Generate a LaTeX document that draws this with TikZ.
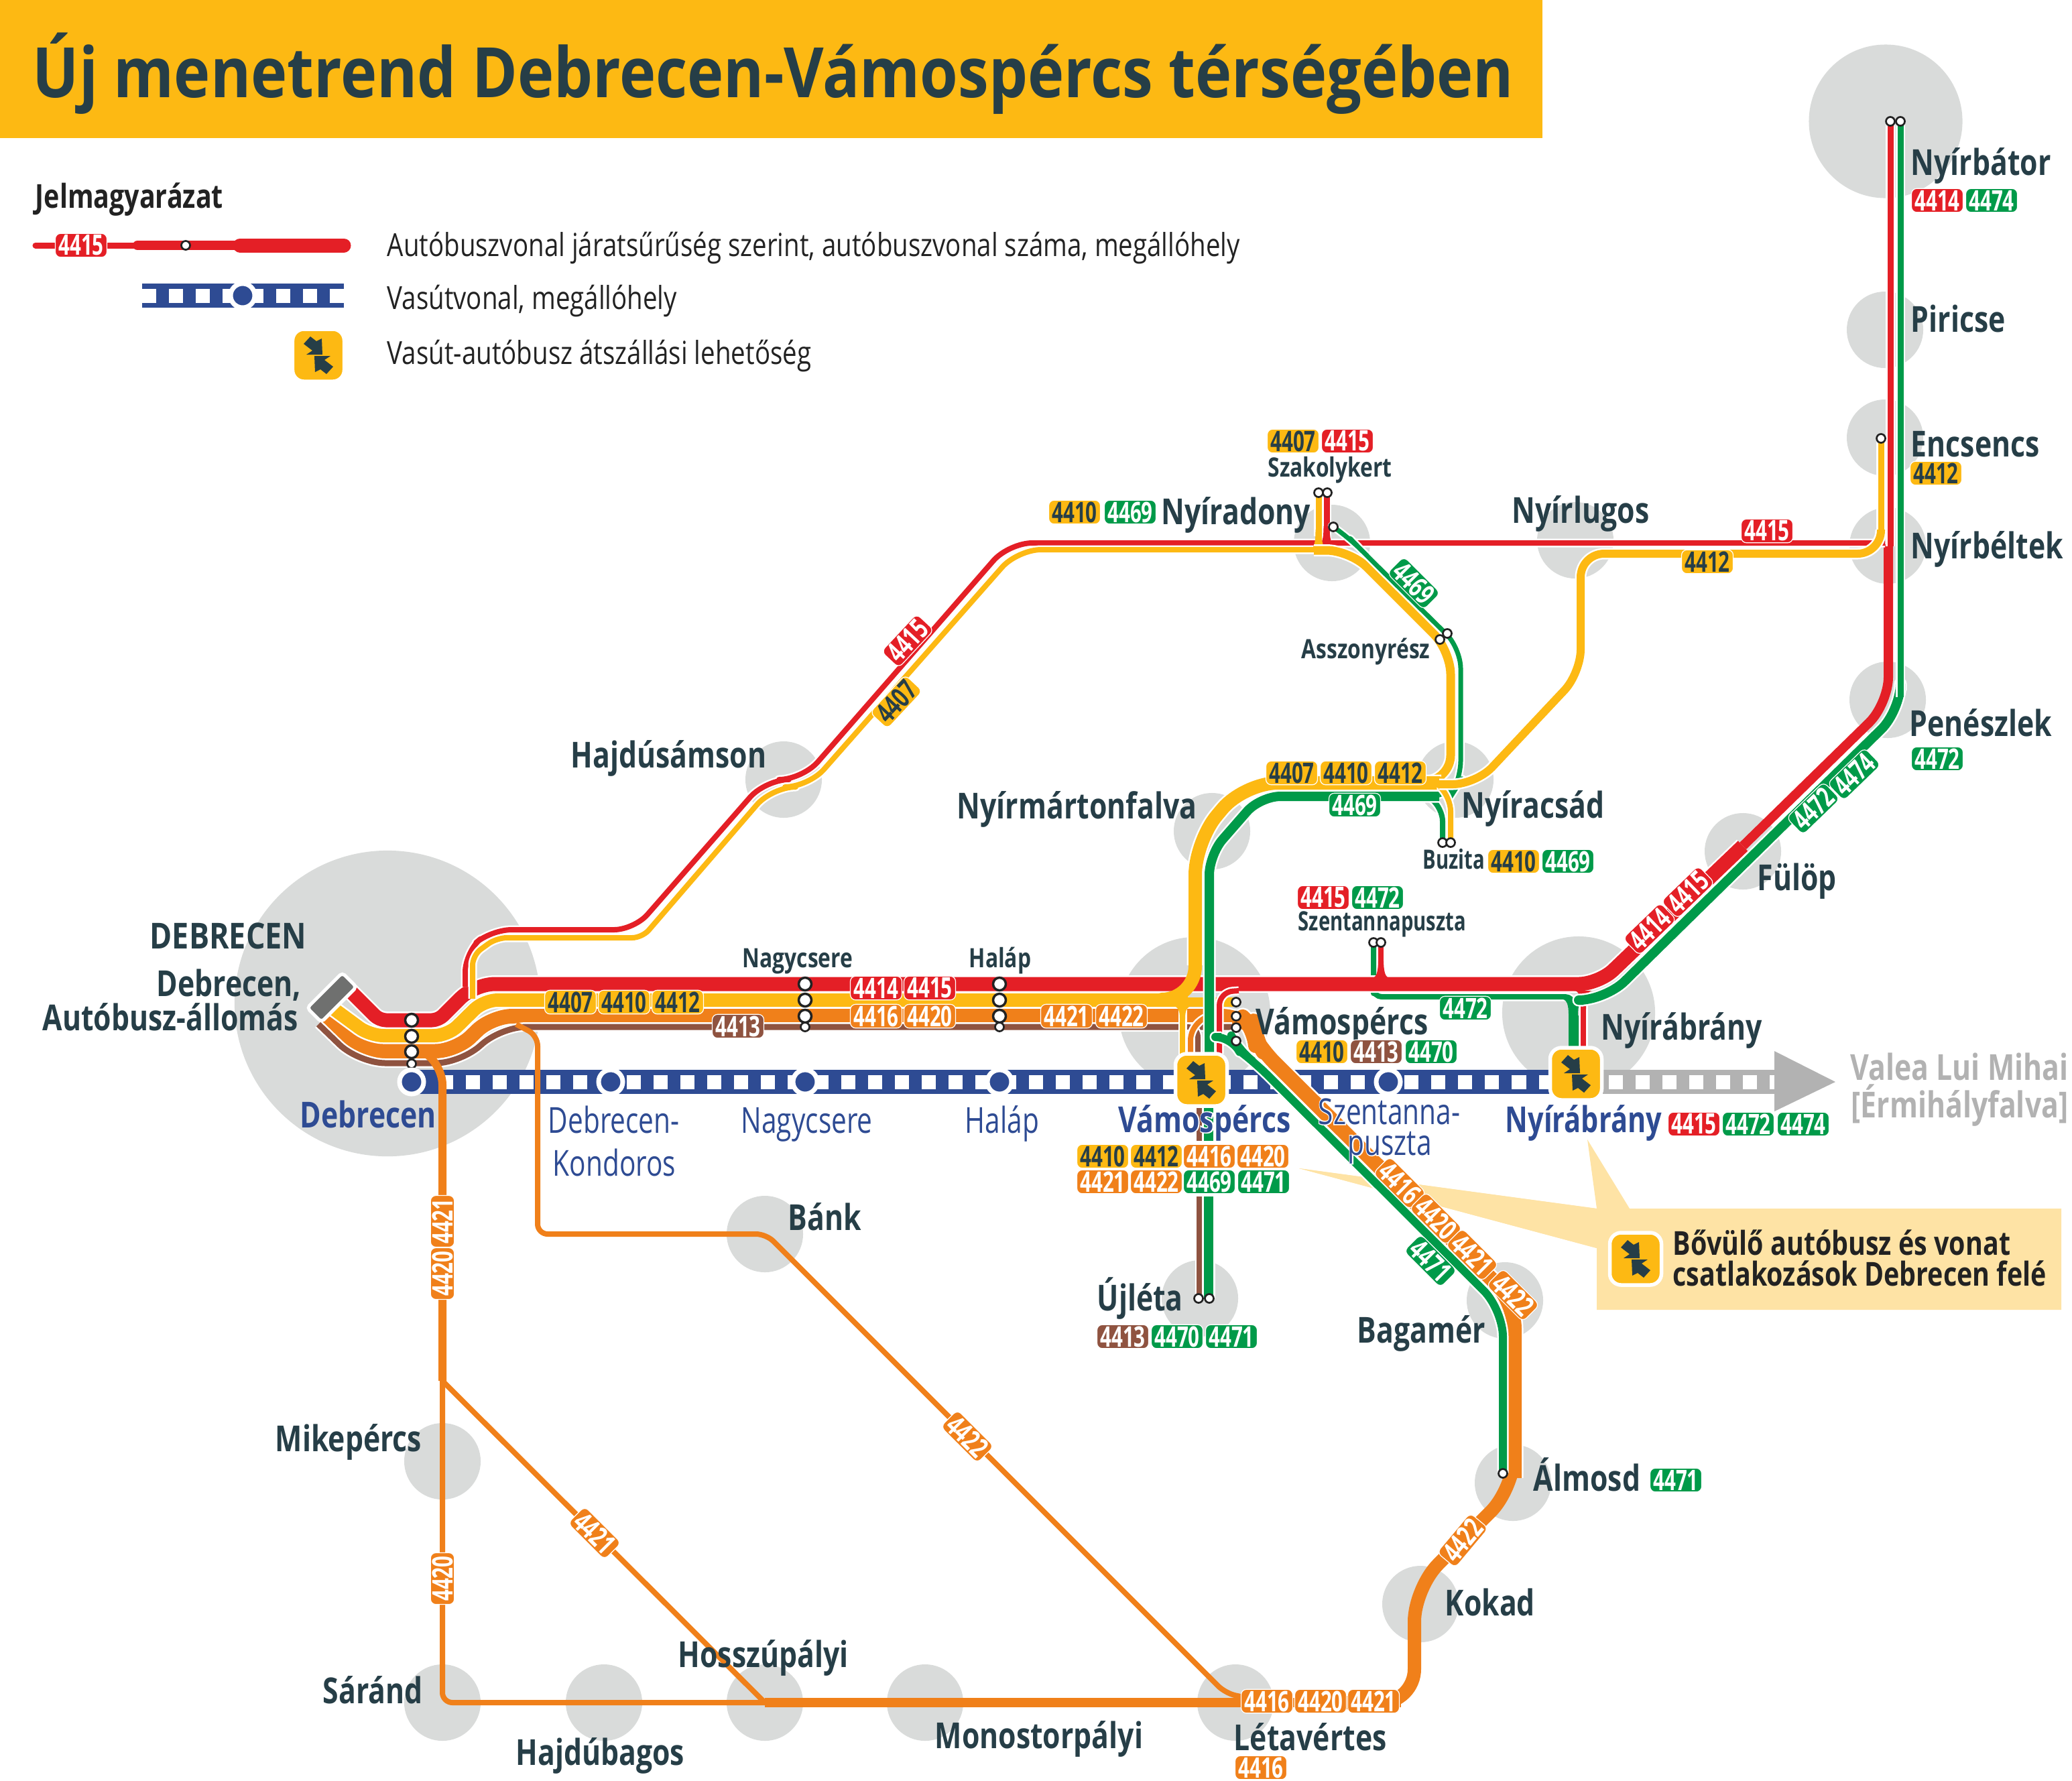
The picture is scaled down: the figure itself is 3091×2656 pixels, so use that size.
\documentclass[tikz,border=0pt]{standalone}
\usepackage{fontspec}
\setmainfont{Open Sans}
\newfontfamily\tF[FakeStretch=0.884]{Open Sans}
\newfontfamily\stB[FakeStretch=0.80]{Open Sans}
\newfontfamily\stH[FakeStretch=0.80,FakeBold=6]{Open Sans}
\newfontfamily\stR[FakeStretch=0.76]{Open Sans}
\newfontfamily\stQ[FakeStretch=0.76,FakeBold=6]{Open Sans}
\newfontfamily\bdF[FakeStretch=0.70]{Open Sans}
\newfontfamily\lgF[FakeStretch=0.81]{Open Sans}
\definecolor{cR}{HTML}{E41F26}
\definecolor{cY}{HTML}{FDB913}
\definecolor{cO}{HTML}{F0801A}
\definecolor{cB}{HTML}{8F5340}
\definecolor{cG}{HTML}{009A49}
\definecolor{cN}{HTML}{2E4B93}
\definecolor{cD}{HTML}{263E47}
\definecolor{cC}{HTML}{D9DBDA}
\definecolor{cS}{HTML}{B2B2B2}
\definecolor{cP}{HTML}{FEE3A5}
\definecolor{cK}{HTML}{222222}
\definecolor{cM}{HTML}{6F706F}
\tikzset{
  rt/.style={line join=round,line cap=butt},
  town/.style={circle,fill=cC,inner sep=0pt},
  bdgbase/.style={rounded corners=0.08cm,draw=white,line width=0.012cm,minimum width=0.77cm,minimum height=0.355cm,inner sep=0pt,
     font=\bdF\bfseries\fontsize{12}{12}\selectfont},
  bR/.style={bdgbase,fill=cR,text=white},
  bY/.style={bdgbase,fill=cY,text=cD},
  bO/.style={bdgbase,fill=cO,text=white},
  bG/.style={bdgbase,fill=cG,text=white},
  bB/.style={bdgbase,fill=cB,text=white},
  stopb/.style={circle,fill=white,draw=cK,line width=0.035cm,inner sep=0pt,minimum size=0.19cm},
  stops/.style={circle,fill=white,draw=cK,line width=0.027cm,inner sep=0pt,minimum size=0.13cm},
  railst/.style={circle,fill=cN,draw=white,line width=0.07cm,inner sep=0pt,minimum size=0.36cm},
  tbox/.style={rounded corners=0.17cm,fill=cY,draw=white,line width=0.055cm,minimum width=0.77cm,minimum height=0.78cm,inner sep=0pt},
  lab/.style={anchor=base west,inner sep=0pt},
}
\newcounter{nn}
\newcommand\bdg[5][0]{\stepcounter{nn}\node[#2,rotate=#1] (b\arabic{nn}) at (#3,#4) {#5};}
\newcommand\route[4][0.3cm]{%
  \draw[rt,rounded corners=#1,white,line width=(#3+5)*0.01cm] #4;
  \draw[rt,rounded corners=#1,#2,line width=#3*0.01cm] #4;}
\newcommand\plain[4][0.3cm]{\draw[rt,rounded corners=#1,#2,line width=#3*0.01cm] #4;}
\newcommand\flare[6]{\fill[#1] ({#2-#6},#3) .. controls ({#2-#6},{#3+(#4-#3)*0.65}) and ({#2-#6-2},#4) .. ({#2-#5},#4) -- ({#2+#5},#4) .. controls ({#2+#6+2},#4) and ({#2+#6},{#3+(#4-#3)*0.65}) .. ({#2+#6},#3) -- cycle;}
\newcommand\hB[1]{\makebox[0pt][l]{\color{white}\stH\bfseries #1}#1}
\newcommand\hR[1]{\makebox[0pt][l]{\color{white}\stQ #1}#1}
\newcommand\stn[4]{\stepcounter{nn}\node[lab,text=#1,font=\stB\bfseries\fontsize{15.2}{18}\selectfont] (t\arabic{nn}) at (#2,#3) {#4};}
\newcommand\stnH[4]{\stepcounter{nn}\node[lab,text=#1,font=\stB\bfseries\fontsize{15.2}{18}\selectfont] (t\arabic{nn}) at (#2,#3) {\hB{#4}};}
\newcommand\sml[3]{\stepcounter{nn}\node[lab,text=cD,font=\stB\bfseries\fontsize{11.3}{13}\selectfont] (t\arabic{nn}) at (#1,#2) {#3};}
\newcommand\rgl[4]{\stepcounter{nn}\node[lab,text=#1,font=\stR\fontsize{15.2}{18}\selectfont] (t\arabic{nn}) at (#2,#3) {#4};}
\newcommand\rglH[4]{\stepcounter{nn}\node[lab,text=#1,font=\stR\fontsize{15.2}{18}\selectfont] (t\arabic{nn}) at (#2,#3) {\hR{#4}};}
\newcommand\icon[2]{\stepcounter{nn}\node[tbox] (i\arabic{nn}) at (#1,#2) {};
  \begin{scope}[shift={(#1,#2)}]
  \fill[cD] (-22,-17)--(-12,-28)--(-3,-21)--(5,-25)--(6,-1)--(-18,-1)--(-9,-7)--cycle;
  \fill[cD] (22,17)--(12,28)--(3,21)--(-5,25)--(-6,1)--(18,1)--(9,7)--cycle;
  \end{scope}}
\begin{document}
\begin{tikzpicture}[x=0.01cm,y=-0.01cm]
\useasboundingbox (0,0) rectangle (3091,2656);
% banner
\fill[cY] (0,0) rectangle (2301,206);
\node[lab,text=cD,font=\tF\bfseries\fontsize{29.5}{34}\selectfont] (title) at (48,145) {Új menetrend Debrecen-Vámospércs térségében};
% legend
\node[lab,text=cK,font=\stB\bfseries\fontsize{14}{16}\selectfont] (lg0) at (52,310) {Jelmagyarázat};
\draw[cR,line width=0.09cm,line cap=round] (53,366)--(200,366);
\draw[cR,line width=0.14cm,line cap=round] (205,366)--(350,366);
\draw[cR,line width=0.21cm,line cap=round] (358,366)--(513,366);
\bdg{bR}{121}{366}{4415}
\node[stops] (lg1) at (277,366) {};
\draw[cN,line width=0.36cm] (212,441)--(513,441);
\draw[white,line width=0.21cm,dash pattern=on 0.21cm off 0.19cm] (212,441)--(513,441);
\node[railst] (lg2) at (362,441) {};
\icon{475}{530}
\node[lab,text=cK,font=\lgF\fontsize{13.5}{15}\selectfont] (lg3) at (577,382) {Autóbuszvonal járatsűrűség szerint, autóbuszvonal száma, megállóhely};
\node[lab,text=cK,font=\lgF\fontsize{13.5}{15}\selectfont] (lg4) at (577,461) {Vasútvonal, megállóhely};
\node[lab,text=cK,font=\lgF\fontsize{13.5}{15}\selectfont] (lg5) at (577,543) {Vasút-autóbusz átszállási lehetőség};
% towns
\node[town,minimum size=4.56cm] (cDeb) at (578,1497) {};
\node[town,minimum size=2.26cm] (cVam) at (1782,1511) {};
\node[town,minimum size=2.28cm] (cAbr) at (2355,1511) {};
\node[town,minimum size=2.29cm] (cBat) at (2813,181) {};
\foreach \n/\x/\y in {Pir/2812/492,Enc/2812/653,Bel/2816/814,Pen/2816/1044,Ful/2600/1270,Acs/2171/1163,Mar/1808/1240,Ady/1987/810,Lug/2350/806,Sam/1169/1163,Bank/1141/1841,Ujl/1790/1937,Bag/2245/1940,Alm/2257/2212,Kok/2119/2393,Let/1843/2540,Mon/1380/2540,Hos/1141/2540,Hba/901/2540,Sar/660/2540,Mik/660/2180}
  \node[town,minimum size=1.14cm] (c\n) at (\x,\y) {};
% callout
\fill[cP] (2382,1803)--(2368,1700)--(2431,1803)--(3075,1803)--(3075,1954)--(2382,1954)--(2382,1862)--(1938,1743)--cycle;
\fill[cP] (1938,1743)--(2382,1803)--(2382,1862)--cycle;
% rails
\draw[cN,line width=0.36cm] (614,1614)--(2330,1614);
\draw[white,line width=0.21cm,dash pattern=on 0.21cm off 0.19cm] (654.5,1614)--(2320,1614);
\draw[cS,line width=0.36cm] (2380,1614)--(2650,1614);
\draw[white,line width=0.21cm,dash pattern=on 0.21cm off 0.19cm] (2400,1614)--(2647,1614);
\fill[cS] (2647,1568)--(2738,1614)--(2647,1658)--cycle;
% corridor
\route[0.4cm]{cO}{22}{(485,1515)[rounded corners=0.3cm]--(543,1568)--(680,1568)--(734,1516)--(1853,1516)[rounded corners=0.25cm]--(1871,1535)--(1872,1548)--(1883,1567)[rounded corners=0.4cm]--(2259,1942)--(2259,2205)}
\plain[0.5cm]{cO}{20}{(2259,2195)--(2259,2220)--(2110,2369)--(2110,2540)--(1990,2540)}
\plain[0.1cm]{cO}{14}{(2090,2540)--(1141,2540)}
\route{cB}{9}{(475,1528)[rounded corners=0.4cm]--(535,1586)--(690,1586)--(745,1532)--(1838,1532)}
\route[0.15cm]{cB}{8}{(1770,1532)--(1787,1532)--(1787,1575)}
\route[0.3cm]{cO}{8}{(1800,1517)--(1776,1522)--(1776,1575)}
\route{cY}{20}{(495,1503)[rounded corners=0.2cm]--(552,1545)--(668,1545)--(722,1492)--(1772,1492)}
\draw[cY,line width=0.14cm,line cap=round] (1772,1495)--(1838,1495);
\route[0.1cm]{cY}{8}{(1764,1502)--(1764,1575)}
\flare{cY}{1764}{1520}{1499}{24}{4}
\route[0.12cm]{cG}{8}{(2049,1406)--(2049,1470)--(2049,1487)--(2347,1487)--(2347,1565)}
\draw[cG,line width=0.15cm] (2347,1515)--(2347,1565);
\flare{cG}{2347}{1515}{1490}{20}{7}
\route{cR}{21}{(505,1461)[rounded corners=0.1cm]--(566,1522)--(654,1522)[rounded corners=0.3cm]--(708,1468)--(2385,1468)--(2600,1262)}
\plain[0.4cm]{cR}{14}{(2600,1262)--(2817,1050)--(2817,812)}
\flare{cR}{2060}{1430}{1459}{14}{4}
\route[0.1cm]{cR}{8}{(2060,1406)--(2060,1434)}
\route[0.1cm]{cR}{8}{(2362,1479)--(2362,1565)}
\flare{cR}{2362}{1505}{1478}{14}{4}
% upper 4415
\route{cR}{8}{(694,1472)--(694,1420)--(733,1387)--(946,1387)[rounded corners=0.35cm]--(1142,1163)--(1197,1163)--(1505,810)[rounded corners=0.1cm]--(2812,810)}
\route[0.1cm]{cR}{9}{(1979,735)--(1979,807)}
\flare{cR}{1979}{785}{812}{12}{4.5}
\route[0.1cm]{cR}{9}{(2820,181)--(2820,815)}
\route[0.4cm]{cG}{14}{(2362,1492)--(2395,1492)--(2835,1060)--(2835,1030)}
\route[0.1cm]{cG}{9}{(2835,181)--(2835,1040)}
% yellow
\route[0.15cm]{cY}{8}{(705,1490)--(705,1425)--(741,1399)--(958,1399)[rounded corners=0.35cm]--(1152,1174)--(1206,1174)--(1518,820)[rounded corners=0.1cm]--(1970,820)}
\route[0.1cm]{cY}{9}{(1967,735)--(1967,800)}
\flare{cY}{1967}{790}{820}{15}{4.5}
\route[0.35cm]{cY}{13}{(1960,821)--(2014,821)--(2164,971)--(2164,1162)--(2135,1165)}
\draw[rt,rounded corners=0.5cm,white,line width=0.25cm] (2150,1168)--(1856,1168)--(1783,1255)--(1783,1440);
\plain[0.5cm]{cY}{20}{(2147,1168)--(1856,1168)--(1783,1255)--(1783,1491)--(1750,1491)}
\fill[cY] (2147,1168) circle (10);
% green
\route[0.3cm]{cG}{7}{(2135,1188)--(2165,1187)--(2179,1165)--(2179,967)--(2035,825)--(2012,801)--(1989,786)}
\route[0.2cm]{cG}{8}{(2130,1188)--(2152,1205)--(2152,1257)}
\route[0.2cm]{cG}{13}{(1835,1547)--(1820,1547)--(1806,1565)}
\route[0.3cm]{cG}{14}{(1804,1575)--(1804,1275)--(1880,1188)--(2147,1188)}
\route[0.2cm]{cY}{8}{(2150,1176)--(2164,1190)--(2164,1257)}
\route[0.15cm]{cY}{9}{(2806,800)--(2806,654)}
\route[0.35cm]{cY}{12}{(2147,1170)--(2202,1170)--(2358,1004)--(2358,826)--(2806,826)--(2806,790)}
\fill[cY] (2147,1170) circle (6);
% red branch at Vamospercs
\route[0.2cm]{cR}{8}{(1848,1478)--(1819,1480)--(1819,1572)}
% green 4471
\route[0.25cm]{cG}{12}{(1822,1547)--(1838,1547)--(1848,1567)--(1873,1586)[rounded corners=0.4cm]--(2242,1954)--(2242,2198)}
\route[0.1cm]{cB}{8}{(1789,1650)--(1789,1702)}
\route[0.1cm]{cG}{14}{(1803,1650)--(1803,1702)}
\route[0.1cm]{cB}{8}{(1789,1785)--(1789,1937)}
\route[0.1cm]{cG}{14}{(1803,1785)--(1803,1937)}
% thin orange branches, over the corridor
\plain[0.28cm]{cO}{12}{(630,1568)--(660,1590)--(660,2060)}
\plain[0.15cm]{cO}{8}{(660,2060)--(660,2540)--(1141,2540)}
\plain[0.05cm]{cO}{8}{(660,2060)--(1141,2540)}
\plain[0.15cm]{cO}{8}{(770,1528)--(802,1545)--(802,1841)--(1143,1841)--(1828,2526)--(1860,2533)}
% depot
\node[rectangle,rounded corners=0.05cm,fill=cM,draw=white,line width=0.05cm,minimum width=0.74cm,minimum height=0.30cm,rotate=45,inner sep=0pt] (depot) at (495,1488) {};
% stops
\foreach \n/\y in {a/1522,b/1546,c/1569}{\node[stopb] (dk\n) at (614,\y) {};}
\node[stops] (dkd) at (614,1587) {};
\foreach \n/\y in {a/1468,b/1492,c/1516}{\node[stopb] (nc\n) at (1201,\y) {};\node[stopb] (hl\n) at (1491,\y) {};}
\node[stops] (ncd) at (1201,1532) {};
\node[stops] (hld) at (1491,1532) {};
\foreach \n/\x/\y in {v1/1844/1495,v2/1844/1516,v3/1844/1533,v4/1844/1553,sz1/1967/735,sz2/1980/735,ad/1989/786,as1/2148/954,as2/2159/945,bu1/2152/1257,bu2/2164/1257,st1/2049/1406,st2/2060/1406,ba1/2820/181,ba2/2835/181,en/2806/654,uj1/1788/1937,uj2/1804/1937,al/2242/2198}
  \node[stops] (s\n) at (\x,\y) {};
% rail stations
\foreach \n/\x in {Deb/614,Kon/911,Nag/1201,Hal/1491,Sze/2071}
  \node[railst] (r\n) at (\x,1614) {};
\icon{1792}{1611}
\icon{2351}{1602}
% callout content
\icon{2440}{1878}
\node[lab,text=cK,font=\stB\bfseries\fontsize{14}{16}\selectfont] (co1) at (2495,1872) {Bővülő autóbusz és vonat};
\node[lab,text=cK,font=\stB\bfseries\fontsize{14}{16}\selectfont] (co2) at (2495,1918) {csatlakozások Debrecen felé};
% labels
\stn{cD}{223}{1415}{\scalebox{1.05}[1]{DEBRECEN}}
\stn{cD}{233}{1486}{Debrecen,}
\stn{cD}{63}{1537}{Autóbusz-állomás}
\stn{cN}{447}{1682}{Debrecen}
\rgl{cN}{817}{1690}{Debrecen-}
\rgl{cN}{824}{1754}{Kondoros}
\rgl{cN}{1105}{1690}{Nagycsere}
\rgl{cN}{1439}{1690}{Haláp}
\stnH{cN}{1668}{1689}{Vámospércs}
\rglH{cN}{1966}{1677}{Szentanna-}
\rglH{cN}{2010}{1723}{puszta}
\stn{cN}{2245}{1689}{\scalebox{.97}[1]{Nyírábrány}}
\stn{cS}{2760}{1611}{Valea Lui Mihai}
\stn{cS}{2761}{1667}{[Érmihályfalva]}
\stn{cD}{1873}{1543}{Vámospércs}
\stn{cD}{2388}{1551}{Nyírábrány}
\sml{1107}{1443}{Nagycsere}
\sml{1445}{1443}{Haláp}
\sml{1936}{1388}{\scalebox{.92}[1]{Szentannapuszta}}
\sml{1891}{711}{Szakolykert}
\sml{2122}{1296}{\scalebox{.92}[1]{Buzita}}
\sml{1941}{982}{Asszonyrész}
\stn{cD}{1732}{782}{Nyíradony}
\stn{cD}{2255}{780}{Nyírlugos}
\stn{cD}{2850}{261}{Nyírbátor}
\stn{cD}{2850}{495}{Piricse}
\stn{cD}{2850}{681}{Encsencs}
\stn{cD}{2850}{833}{Nyírbéltek}
\stn{cD}{2848}{1098}{Penészlek}
\stn{cD}{2621}{1328}{Fülöp}
\stn{cD}{2180}{1220}{Nyíracsád}
\stn{cD}{1427}{1221}{Nyírmártonfalva}
\stn{cD}{851}{1145}{Hajdúsámson}
\stn{cD}{1175}{1835}{Bánk}
\stn{cD}{1636}{1955}{Újléta}
\stn{cD}{2024}{2003}{Bagamér}
\stn{cD}{410}{2165}{Mikepércs}
\stn{cD}{481}{2541}{Sáránd}
\stn{cD}{769}{2633}{Hajdúbagos}
\stn{cD}{1011}{2487}{Hosszúpályi}
\stn{cD}{1394}{2608}{Monostorpályi}
\stn{cD}{1840}{2611}{Létavértes}
\stn{cD}{2155}{2410}{Kokad}
\stn{cD}{2287}{2224}{Álmosd}
% badges
\bdg{bY}{1929}{658}{4407}\bdg{bR}{2010}{658}{4415}
\bdg{bY}{1603}{764}{4410}\bdg{bG}{1686}{764}{4469}
\bdg{bR}{2890}{299}{4414}\bdg{bG}{2971}{299}{4474}
\bdg{bY}{2888}{706}{4412}
\bdg{bG}{2890}{1132}{4472}
\bdg{bR}{2636}{792}{4415}
\bdg{bY}{2547}{838}{4412}
\bdg{bY}{1927}{1153}{4407}\bdg{bY}{2008}{1153}{4410}\bdg{bY}{2089}{1153}{4412}
\bdg{bG}{2021}{1201}{4469}
\bdg{bY}{2258}{1285}{4410}\bdg{bG}{2339}{1285}{4469}
\bdg[47]{bR}{1354}{956}{4415}
\bdg[47]{bY}{1337}{1047}{4407}
\bdg[-45]{bG}{2109}{870}{4469}
\bdg[44]{bR}{2461}{1386}{4414}\bdg[44]{bR}{2518}{1331}{4415}
\bdg[44]{bG}{2705}{1206}{4472}\bdg[44]{bG}{2766}{1155}{4474}
\bdg{bG}{2186}{1504}{4472}
\bdg{bR}{1974}{1339}{4415}\bdg{bG}{2055}{1339}{4472}
\bdg{bY}{1972}{1569}{4410}\bdg{bB}{2053}{1569}{4413}\bdg{bG}{2135}{1569}{4470}
\bdg{bY}{1645}{1725}{4410}\bdg{bY}{1725}{1725}{4412}\bdg{bO}{1804}{1725}{4416}\bdg{bO}{1884}{1725}{4420}
\bdg{bO}{1645}{1763}{4421}\bdg{bO}{1725}{1763}{4422}\bdg{bG}{1804}{1763}{4469}\bdg{bG}{1885}{1763}{4471}
\bdg{bR}{2527}{1677}{4415}\bdg{bG}{2608}{1677}{4472}\bdg{bG}{2690}{1677}{4474}
\bdg{bY}{851}{1495}{4407}\bdg{bY}{931}{1495}{4410}\bdg{bY}{1011}{1495}{4412}
\bdg{bB}{1101}{1531}{4413}
\bdg{bR}{1307}{1474}{4414}\bdg{bR}{1387}{1474}{4415}
\bdg{bO}{1307}{1516}{4416}\bdg{bO}{1387}{1516}{4420}
\bdg{bO}{1591}{1516}{4421}\bdg{bO}{1673}{1516}{4422}
\bdg[-45]{bO}{2088}{1765}{4416}\bdg[-45]{bO}{2142}{1818}{4420}\bdg[-45]{bO}{2196}{1872}{4421}\bdg[-45]{bO}{2257}{1932}{4422}
\bdg[-45]{bG}{2134}{1881}{4471}
\bdg{bB}{1675}{1994}{4413}\bdg{bG}{1756}{1994}{4470}\bdg{bG}{1837}{1994}{4471}
\bdg{bO}{1881}{2637}{4416}
\bdg{bO}{1890}{2538}{4416}\bdg{bO}{1970}{2538}{4420}\bdg{bO}{2049}{2538}{4421}
\bdg[50]{bO}{2182}{2298}{4422}
\bdg[-45]{bO}{1443}{2143}{4422}
\bdg[-45]{bO}{887}{2287}{4421}
\bdg[90]{bO}{660}{1900}{4420}\bdg[90]{bO}{660}{1822}{4421}
\bdg[90]{bO}{660}{2355}{4420}
\bdg{bG}{2500}{2208}{4471}
\end{tikzpicture}
\end{document}
